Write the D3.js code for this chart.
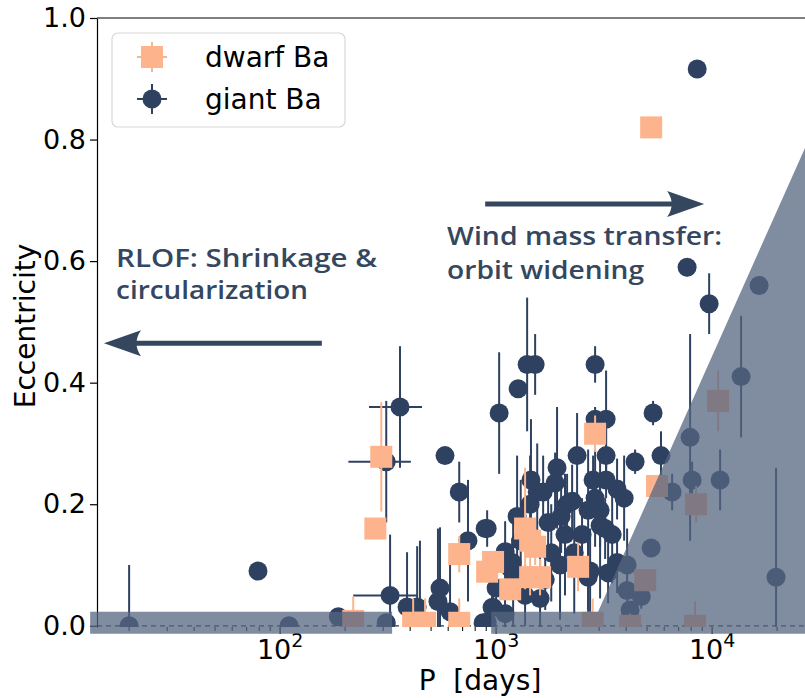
<!DOCTYPE html>
<html>
<head>
<meta charset="utf-8">
<script src="https://cdn.jsdelivr.net/npm/d3@7"></script>
<style>
  body { margin: 0; background: #fff; }
  svg { display: block; }
  text { font-family: "DejaVu Sans", sans-serif; }
</style>
</head>
<body>
<div id="chart"></div>
<script>
// giant Ba stars: period (days), eccentricity, eccentricity error
const giantP = [20, 79, 110, 186, 323, 359, 310, 310, 580, 675, 741, 890, 387, 431, 538, 550, 612, 968, 909, 871,
  444, 1033, 1265, 1392, 1516, 2873, 2873, 3230, 2371, 3230, 1915, 1875, 1651, 2812, 3230, 3631, 1437, 2131, 2249, 2667,
  2873, 3030, 1251, 1741, 3030, 3446, 2084, 1101, 1187, 1977, 2724, 1688, 1199, 2667, 909, 1000, 958, 3915, 3631, 4041,
  4041, 4700, 4170, 5222, 2667, 3300, 5330, 5800, 4400, 5620, 6530, 7660, 8530, 9690, 16500, 13620, 7910, 8080, 10890, 19770,
  1362, 1598, 1100, 2300, 1800, 2500, 1300, 3197, 2000, 1550, 1450, 1162];
const giantE = [0.00, 0.09, 0.00, 0.015, 0.05, 0.36, 0.27, 0.005, 0.28, 0.22, 0.14, 0.16, 0.031, 0.031, 0.04, 0.062, 0.023, 0.03, 0.006, 0.005,
  0.01, 0.35, 0.39, 0.43, 0.43, 0.43, 0.34, 0.34, 0.28, 0.28, 0.26, 0.235, 0.22, 0.24, 0.24, 0.225, 0.20, 0.20, 0.205, 0.19,
  0.21, 0.19, 0.18, 0.17, 0.165, 0.15, 0.15, 0.122, 0.104, 0.10, 0.09, 0.076, 0.087, 0.08, 0.16, 0.062, 0.03, 0.21, 0.104, 0.10,
  0.058, 0.048, 0.026, 0.128, 0.087, 0.087, 0.35, 0.28, 0.27, 0.23, 0.22, 0.59, 0.916, 0.53, 0.56, 0.41, 0.31, 0.24, 0.24, 0.08,
  0.05, 0.045, 0.02, 0.12, 0.12, 0.15, 0.14, 0.16, 0.18, 0.22, 0.24, 0.095];
const giantErr = [0.10, 0, 0, 0, 0.10, 0.10, 0.10, 0, 0, 0.05, 0.10, 0, 0.09, 0.10, 0.12, 0.10, 0.08, 0.06, 0.03, 0,
  0.13, 0.10, 0.01, 0.11, 0.05, 0.03, 0.02, 0.08, 0.07, 0.05, 0.10, 0.05, 0.06, 0.04, 0.03, 0.05, 0.08, 0.05, 0.06, 0.10,
  0.08, 0.06, 0.10, 0.05, 0.12, 0.08, 0.10, 0.05, 0.04, 0.09, 0.07, 0.05, 0.10, 0.08, 0.03, 0.03, 0.02, 0.07, 0.05, 0.06,
  0, 0.02, 0, 0, 0.06, 0.05, 0.02, 0.04, 0.02, 0.01, 0.03, 0.015, 0, 0.05, 0, 0.10, 0.17, 0.03, 0.05, 0.18,
  0.05, 0.10, 0.05, 0.10, 0.08, 0.06, 0.10, 0.05, 0.06, 0.08, 0.10, 0.04];

// giant Ba stars that also carry a period error
const xErrP = [323, 359, 310];
const xErrE = [0.05, 0.36, 0.27];
const xErrLo = [218, 258, 207];
const xErrHi = [431, 454, 403];

// dwarf Ba stars
const dwarfP = [218, 276, 294, 413, 469, 675, 675, 909, 968, 1162, 1362, 1437, 1516, 1437, 1598, 2397, 2873, 5222, 5560, 4900,
  10660, 8430, 8340, 4170, 2800];
const dwarfE = [0.008, 0.16, 0.278, 0.005, 0.005, 0.118, 0.005, 0.089, 0.105, 0.06, 0.16, 0.14, 0.13, 0.08, 0.08, 0.097, 0.316, 0.82, 0.23, 0.075,
  0.37, 0.20, 0.0, 0.0, 0.005];
const dwarfErr = [0.04, 0, 0.09, 0.04, 0.04, 0.03, 0.04, 0, 0, 0, 0.10, 0.03, 0.03, 0.03, 0.03, 0.04, 0.03, 0, 0, 0,
  0.05, 0.03, 0.04, 0.02, 0.04];

// ticks
const yTicks = [0.0, 0.2, 0.4, 0.6, 0.8, 1.0];
const xMajor = [100, 1000, 10000];
const xMajorExp = ["2", "3", "4"];

// shaded regions (period, eccentricity)
const bandP = [13.2, 330, 330, 13.2];
const bandE = [0.023, 0.023, -0.013, -0.013];
const wedgeP = [949, 2965, 31623, 31623, 949];
const wedgeE = [0.023, 0.023, 0.842, -0.013, -0.013];

const navy = "#2e4160";
const orange = "#fdb48c";
const ink = "#34475f";

const width = 805, height = 698;
const plotLeft = 97, plotTop = 18, plotBottom = 627;

const svg = d3.select("#chart").append("svg")
  .attr("width", width)
  .attr("height", height);

const x = d3.scaleLog()
  .domain([14.2, 31623])
  .range([plotLeft, plotLeft + 216 * (4.5 - Math.log10(14.2))]);
const y = d3.scaleLinear()
  .domain([-0.002, 1.0])
  .range([plotBottom, plotTop]);
const plotRight = x.range()[1];

svg.append("clipPath").attr("id", "plot")
  .append("rect")
  .attr("x", plotLeft).attr("y", plotTop)
  .attr("width", plotRight - plotLeft).attr("height", plotBottom - plotTop);

// dashed zero line
svg.append("line")
  .attr("x1", plotLeft).attr("x2", plotRight)
  .attr("y1", y(0)).attr("y2", y(0))
  .style("stroke", "#333")
  .style("stroke-width", 1.2)
  .style("stroke-dasharray", "5,4");

const plot = svg.append("g").attr("clip-path", "url(#plot)");

// giant error bars
plot.append("g").selectAll("line")
  .data(d3.range(giantP.length).filter(i => giantErr[i] > 0))
  .join("line")
  .attr("x1", i => x(giantP[i])).attr("x2", i => x(giantP[i]))
  .attr("y1", i => y(giantE[i] - giantErr[i]))
  .attr("y2", i => y(giantE[i] + giantErr[i]))
  .style("stroke", navy)
  .style("stroke-width", 2);

plot.append("g").selectAll("line")
  .data(d3.range(xErrP.length))
  .join("line")
  .attr("x1", i => x(xErrLo[i])).attr("x2", i => x(xErrHi[i]))
  .attr("y1", i => y(xErrE[i])).attr("y2", i => y(xErrE[i]))
  .style("stroke", navy)
  .style("stroke-width", 2);

plot.append("g").selectAll("circle")
  .data(d3.range(giantP.length))
  .join("circle")
  .attr("cx", i => x(giantP[i]))
  .attr("cy", i => y(giantE[i]))
  .attr("r", 9.5)
  .style("fill", navy);

// dwarf error bars and squares
plot.append("g").selectAll("line")
  .data(d3.range(dwarfP.length).filter(i => dwarfErr[i] > 0))
  .join("line")
  .attr("x1", i => x(dwarfP[i])).attr("x2", i => x(dwarfP[i]))
  .attr("y1", i => y(dwarfE[i] - dwarfErr[i]))
  .attr("y2", i => y(dwarfE[i] + dwarfErr[i]))
  .style("stroke", orange)
  .style("stroke-width", 2);

plot.append("g").selectAll("rect")
  .data(d3.range(dwarfP.length))
  .join("rect")
  .attr("x", i => x(dwarfP[i]) - 11)
  .attr("y", i => y(dwarfE[i]) - 11)
  .attr("width", 22).attr("height", 22)
  .style("fill", orange);

// axes
svg.append("g")
  .attr("transform", "translate(" + plotLeft + ",0)")
  .call(d3.axisLeft(y).tickValues(yTicks).tickFormat(d3.format(".1f")).tickSize(7).tickPadding(4).tickSizeOuter(0))
  .call(g => g.select(".domain").style("stroke", "#000").style("stroke-width", 1.2))
  .call(g => g.selectAll(".tick line").style("stroke", "#000").style("stroke-width", 1.2))
  .call(g => g.selectAll(".tick text").style("font-size", "27px").style("fill", "#000")
    .style("font-family", "'DejaVu Sans', sans-serif"));

svg.append("line")
  .attr("x1", plotLeft).attr("x2", plotRight)
  .attr("y1", plotTop).attr("y2", plotTop)
  .style("stroke", "#000").style("stroke-width", 1.2);

const minor = [];
for (let k = 1; k <= 4; k++) {
  for (let m = 2; m <= 9; m++) {
    const v = m * Math.pow(10, k);
    if (v > x.domain()[0] && v < x.domain()[1]) minor.push(v);
  }
}
svg.append("g").selectAll("line")
  .data(minor)
  .join("line")
  .attr("x1", d => x(d)).attr("x2", d => x(d))
  .attr("y1", plotBottom).attr("y2", plotBottom + 4)
  .style("stroke", "#000").style("stroke-width", 1);

svg.append("g").selectAll("line")
  .data(xMajor)
  .join("line")
  .attr("x1", d => x(d)).attr("x2", d => x(d))
  .attr("y1", plotBottom).attr("y2", plotBottom + 7)
  .style("stroke", "#000").style("stroke-width", 1.2);

const xl = svg.append("g").selectAll("text")
  .data(xMajor)
  .join("text")
  .attr("x", d => x(d))
  .attr("y", 659)
  .attr("text-anchor", "middle")
  .style("font-size", "27px")
  .style("fill", "#000");
xl.append("tspan").text("10");
xl.append("tspan").attr("dy", -12).style("font-size", "19px").text((d, i) => xMajorExp[i]);

svg.append("text")
  .attr("x", 480).attr("y", 690)
  .attr("text-anchor", "middle")
  .style("font-size", "28px")
  .style("white-space", "pre")
  .text("P  [days]");

svg.append("text")
  .attr("transform", "translate(35,326) rotate(-90)")
  .attr("text-anchor", "middle")
  .style("font-size", "28px")
  .text("Eccentricity");

// shaded overlay
const shade = d3.path();
[[bandP, bandE], [wedgeP, wedgeE]].forEach(([ps, es]) => {
  ps.forEach((p, i) => {
    if (i === 0) shade.moveTo(x(p), y(es[i]));
    else shade.lineTo(x(p), y(es[i]));
  });
  shade.closePath();
});
svg.append("path")
  .attr("d", shade.toString())
  .style("fill", "rgb(85,101,128)")
  .style("fill-opacity", 0.75);

// legend
const legend = svg.append("g");
legend.append("rect")
  .attr("x", 112).attr("y", 33)
  .attr("width", 233).attr("height", 94)
  .attr("rx", 6)
  .style("fill", "#fff").style("fill-opacity", 0.85)
  .style("stroke", "#d8d8d8").style("stroke-width", 1.2);

const legendItems = [
  {label: "dwarf Ba", color: orange, shape: "square", cy: 57},
  {label: "giant Ba", color: navy, shape: "circle", cy: 99}
];
legendItems.forEach(d => {
  legend.append("line").attr("x1", 137).attr("x2", 167).attr("y1", d.cy).attr("y2", d.cy)
    .style("stroke", d.color).style("stroke-width", 2);
  legend.append("line").attr("x1", 152).attr("x2", 152).attr("y1", d.cy - 15).attr("y2", d.cy + 15)
    .style("stroke", d.color).style("stroke-width", 2);
  if (d.shape === "square") {
    legend.append("rect").attr("x", 141).attr("y", d.cy - 11).attr("width", 22).attr("height", 22)
      .style("fill", d.color);
  } else {
    legend.append("circle").attr("cx", 152).attr("cy", d.cy).attr("r", 9.5).style("fill", d.color);
  }
  legend.append("text")
    .attr("x", 205).attr("y", d.cy + 10)
    .style("font-size", "28px")
    .text(d.label);
});

// annotations
const annFont = "'Open Sans', Lato, sans-serif";
const notes = [
  {text: "RLOF: Shrinkage &", p: 17.4, e: 0.59, len: 261},
  {text: "circularization", p: 17.4, e: 0.538, len: 192},
  {text: "Wind mass transfer:", p: 593, e: 0.626, len: 275},
  {text: "orbit widening", p: 593, e: 0.57, len: 197}
];
svg.append("g").selectAll("text")
  .data(notes)
  .join("text")
  .attr("x", d => x(d.p))
  .attr("y", d => y(d.e))
  .attr("textLength", d => d.len)
  .attr("lengthAdjust", "spacingAndGlyphs")
  .style("font-family", annFont)
  .style("font-weight", 600)
  .style("font-size", "25px")
  .style("fill", ink)
  .text(d => d.text);

const arrows = [
  {from: [156, 0.465], to: [15.3, 0.465]},
  {from: [890, 0.694], to: [9190, 0.694]}
];
arrows.forEach(a => {
  const x1 = x(a.from[0]), x2 = x(a.to[0]), yy = y(a.from[1]);
  const dir = Math.sign(x2 - x1);
  svg.append("line")
    .attr("x1", x1).attr("x2", x2 - dir * 28)
    .attr("y1", yy).attr("y2", yy)
    .style("stroke", ink).style("stroke-width", 5);
  svg.append("path")
    .attr("d", "M" + x2 + "," + yy +
      "L" + (x2 - dir * 37) + "," + (yy - 13) +
      "Q" + (x2 - dir * 28) + "," + yy + " " + (x2 - dir * 37) + "," + (yy + 13) + "Z")
    .style("fill", ink);
});
</script>
</body>
</html>
